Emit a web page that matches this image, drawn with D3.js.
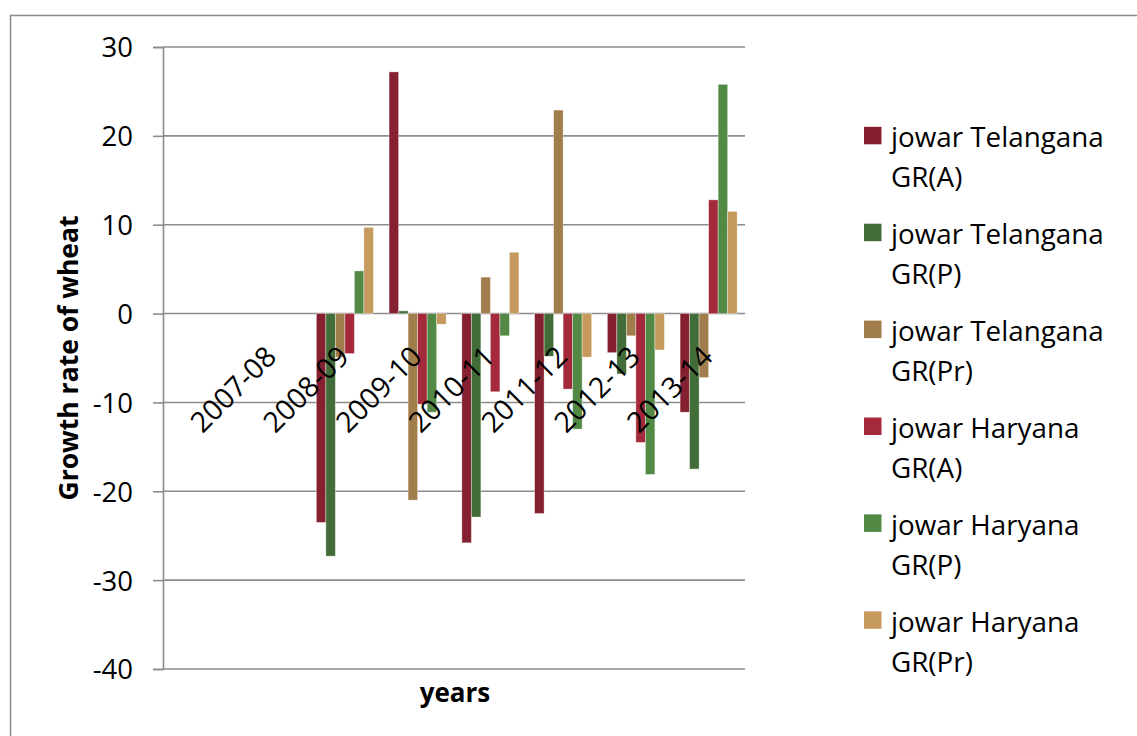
<!DOCTYPE html>
<html>
<head>
<meta charset="utf-8">
<script src="https://cdn.jsdelivr.net/npm/d3@7"></script>
<style>
  html, body { margin: 0; padding: 0; background: #fff; }
  svg { display: block; font-family: "Open Sans", "Noto Sans", sans-serif; }
</style>
</head>
<body>
<svg id="chart" width="1137" height="736"></svg>
<script>
// ---- data ----
const categories = ["", "2007-08", "2008-09", "2009-10", "2010-11", "2011-12", "2012-13", "2013-14"];
const seriesNames = [
  ["jowar Telangana", "GR(A)"],
  ["jowar Telangana", "GR(P)"],
  ["jowar Telangana", "GR(Pr)"],
  ["jowar Haryana", "GR(A)"],
  ["jowar Haryana", "GR(P)"],
  ["jowar Haryana", "GR(Pr)"]
];
const telanganaA  = [null, 0, -23.5, 27.2, -25.8, -22.5, -4.4, -11.1];
const telanganaP  = [null, 0, -27.3, 0.3, -22.9, -4.8, -6.8, -17.5];
const telanganaPr = [null, 0, -4.9, -21.0, 4.1, 22.9, -2.5, -7.2];
const haryanaA    = [null, 0, -4.5, -10.2, -8.8, -8.5, -14.5, 12.8];
const haryanaP    = [null, 0, 4.8, -11.1, -2.5, -13.0, -18.1, 25.8];
const haryanaPr   = [null, 0, 9.7, -1.2, 6.9, -4.9, -4.1, 11.5];
const seriesValues = [telanganaA, telanganaP, telanganaPr, haryanaA, haryanaP, haryanaPr];
const colors = ["#852030", "#436d38", "#a07d4a", "#a3293b", "#528a45", "#c59a5c"];
const yTicks = [30, 20, 10, 0, -10, -20, -30, -40];

// ---- layout ----
const svg = d3.select("#chart");
const plot = { left: 163, right: 745, top: 47, bottom: 669 };

// outer frame
svg.append("rect")
  .attr("x", 10.5).attr("y", 15.5)
  .attr("width", 1140).attr("height", 740)
  .attr("fill", "none").attr("stroke", "#8a8a8a").attr("stroke-width", 1.5);

const y = d3.scaleLinear().domain([-40, 30]).range([plot.bottom, plot.top]);
const x0 = d3.scaleBand().domain(categories).range([plot.left, plot.right]).padding(0);
const bw = x0.bandwidth();
const barW = bw / 7.65;
const gap = bw - barW * 6;
const x1 = d3.scaleBand().domain(d3.range(6)).range([gap / 2, bw - gap / 2]).padding(0);

// gridlines
svg.append("g").selectAll("line").data(yTicks).join("line")
  .attr("x1", plot.left).attr("x2", plot.right)
  .attr("y1", d => y(d)).attr("y2", d => y(d))
  .attr("stroke", "#8c8c8c").attr("stroke-width", 1.6);

// y axis
const yAxis = d3.axisLeft(y).tickValues(yTicks).tickSize(10).tickPadding(20).tickFormat(d3.format("d"));
const ya = svg.append("g").attr("transform", `translate(${plot.left},0)`).call(yAxis);
ya.select(".domain").attr("stroke", "#8c8c8c").attr("stroke-width", 1.6);
ya.selectAll(".tick line").attr("stroke", "#8c8c8c").attr("stroke-width", 1.6);
ya.selectAll(".tick text")
  .attr("font-family", "'Open Sans', sans-serif")
  .attr("font-size", 27.5).attr("fill", "#000")
  .attr("dy", "0.36em")
  .text(d => d < 0 ? "-" + Math.abs(d) : d);

// bars
const bars = svg.append("g");
seriesValues.forEach((vals, si) => {
  bars.append("g").selectAll("rect")
    .data(categories.map((c, i) => ({ c, v: vals[i] })).filter(d => d.v !== null && d.v !== 0))
    .join("rect")
    .attr("x", d => x0(d.c) + x1(si))
    .attr("width", x1.bandwidth())
    .attr("y", d => y(Math.max(0, d.v)))
    .attr("height", d => Math.abs(y(d.v) - y(0)))
    .attr("fill", colors[si])
    .attr("stroke", "rgba(255,255,255,0.45)")
    .attr("stroke-width", 0.8);
});

// category labels (rotated)
const xAxis = d3.axisBottom(x0).tickSize(0).tickFormat(d => d);
const xa = svg.append("g").attr("transform", `translate(0,${y(0)})`).call(xAxis);
xa.select(".domain").remove();
xa.selectAll(".tick text")
  .attr("font-family", "'Open Sans', sans-serif")
  .attr("font-size", 28.5).attr("fill", "#000")
  .attr("text-anchor", "end")
  .attr("y", 0).attr("dy", 0)
  .attr("transform", "translate(6,45) rotate(-45)");

// axis titles
svg.append("text")
  .attr("transform", `translate(78,${(plot.top + plot.bottom) / 2}) rotate(-90)`)
  .attr("text-anchor", "middle")
  .attr("font-family", "'Open Sans', sans-serif")
  .attr("font-weight", "bold").attr("font-size", 26.5)
  .text("Growth rate of wheat");

svg.append("text")
  .attr("x", 455).attr("y", 702)
  .attr("text-anchor", "middle")
  .attr("font-family", "'Open Sans', sans-serif")
  .attr("font-weight", "bold").attr("font-size", 26)
  .text("years");

// legend
const legend = svg.append("g");
seriesNames.forEach((name, i) => {
  const base = 147.3 + i * 96.9;
  legend.append("rect")
    .attr("x", 864).attr("y", base - 20.5)
    .attr("width", 17.5).attr("height", 17.5)
    .attr("fill", colors[i]);
  const t = legend.append("text")
    .attr("font-family", "'Open Sans', sans-serif")
    .attr("font-size", 27.8).attr("fill", "#000");
  t.append("tspan").attr("x", 891).attr("y", base).text(name[0]);
  t.append("tspan").attr("x", 891).attr("y", base + 40).text(name[1]);
});
</script>
</body>
</html>
